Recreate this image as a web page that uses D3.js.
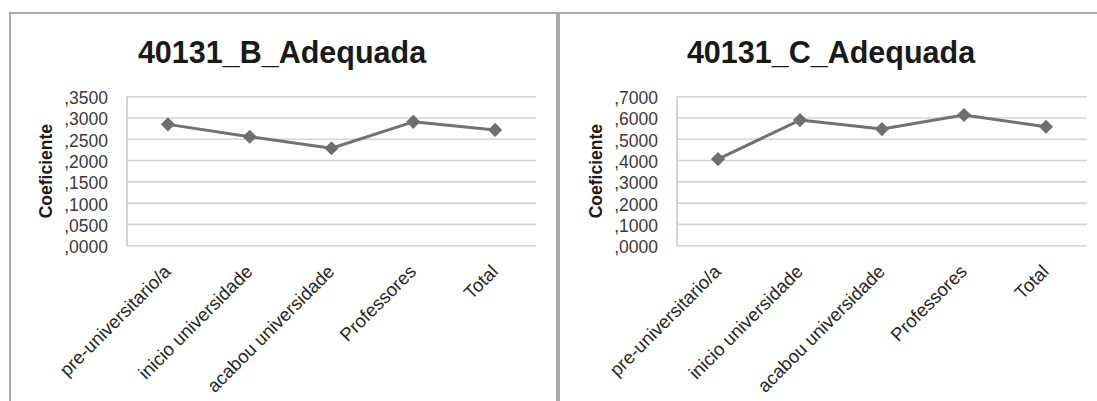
<!DOCTYPE html>
<html><head><meta charset="utf-8">
<script src="https://cdn.jsdelivr.net/npm/d3@7"></script>
<style>
html,body{margin:0;padding:0;background:#fff;overflow:hidden}
svg{display:block}
text{font-family:"Liberation Sans",Arial,sans-serif}
</style></head>
<body>
<svg id="chart" width="1097" height="401"></svg>
<script>
const categories = ["pre-universitario/a","inicio universidade","acabou universidade","Professores","Total"];
const titleB = "40131_B_Adequada";
const titleC = "40131_C_Adequada";
const valuesB = [0.285, 0.256, 0.229, 0.291, 0.272];
const valuesC = [0.407, 0.590, 0.548, 0.614, 0.559];
const ticksB = [0, 0.05, 0.10, 0.15, 0.20, 0.25, 0.30, 0.35];
const ticksC = [0, 0.1, 0.2, 0.3, 0.4, 0.5, 0.6, 0.7];
const yTitle = "Coeficiente";

(function () {
const svg = d3.select("#chart");
const fmt = v => "," + d3.format("04d")(Math.round(v * 10000));

const panels = [
  {title: titleB, values: valuesB, ticks: ticksB, max: 0.35, bx: 10, bw: 547, px: 127, pw: 409, tx: 282},
  {title: titleC, values: valuesC, ticks: ticksC, max: 0.7, bx: 559, bw: 560, px: 677, pw: 410, tx: 831}
];
const plotTop = 96.7, plotBottom = 245.7;

panels.forEach(p => {
  svg.append("rect").attr("x", p.bx).attr("y", 13).attr("width", p.bw).attr("height", 420)
    .attr("fill", "none").attr("stroke", "#a9a9a9").attr("stroke-width", 2);

  svg.append("text").attr("x", p.tx).attr("y", 63).attr("text-anchor", "middle")
    .attr("font-size", 30.5).attr("font-weight", "bold").attr("fill", "#1a1a1a").text(p.title);

  const x = d3.scaleBand().domain(categories).range([p.px, p.px + p.pw]);
  const y = d3.scaleLinear().domain([0, p.max]).range([plotBottom, plotTop]);
  const g = svg.append("g");

  g.selectAll("line.grid").data(p.ticks).join("line")
    .attr("x1", p.px).attr("x2", p.px + p.pw)
    .attr("y1", d => y(d)).attr("y2", d => y(d))
    .attr("stroke", "#d4d4d4").attr("stroke-width", 1.6);
  g.append("line").attr("x1", p.px).attr("x2", p.px).attr("y1", plotTop).attr("y2", plotBottom)
    .attr("stroke", "#c8c8c8").attr("stroke-width", 1.6);

  g.selectAll("text.yt").data(p.ticks).join("text")
    .attr("x", p.px - 19).attr("y", d => y(d) + 7.5)
    .attr("text-anchor", "end").attr("font-size", 17.5).attr("fill", "#3a3a3a")
    .text(fmt);

  g.append("text")
    .attr("transform", `translate(${p.px - 75},${(plotTop + plotBottom) / 2}) rotate(-90)`)
    .attr("text-anchor", "middle").attr("font-size", 17.5).attr("font-weight", "bold").attr("fill", "#1a1a1a")
    .text(yTitle);

  g.selectAll("text.xl").data(categories).join("text")
    .attr("transform", d => `translate(${x(d) + x.bandwidth() / 2 + 4},${plotBottom + 27}) rotate(-45)`)
    .attr("text-anchor", "end").attr("font-size", 18.5).attr("fill", "#262626")
    .text(d => d);

  const line = d3.line().x((d, i) => x(categories[i]) + x.bandwidth() / 2).y(d => y(d));
  g.append("path").datum(p.values).attr("d", line)
    .attr("fill", "none").attr("stroke", "#727272").attr("stroke-width", 3).attr("stroke-linejoin", "round");

  g.selectAll("path.m").data(p.values).join("path")
    .attr("d", d3.symbol().type(d3.symbolSquare).size(100))
    .attr("transform", (d, i) => `translate(${x(categories[i]) + x.bandwidth() / 2},${y(d)}) rotate(45)`)
    .attr("fill", "#6e6e6e");
});
})();
</script>
</body></html>
